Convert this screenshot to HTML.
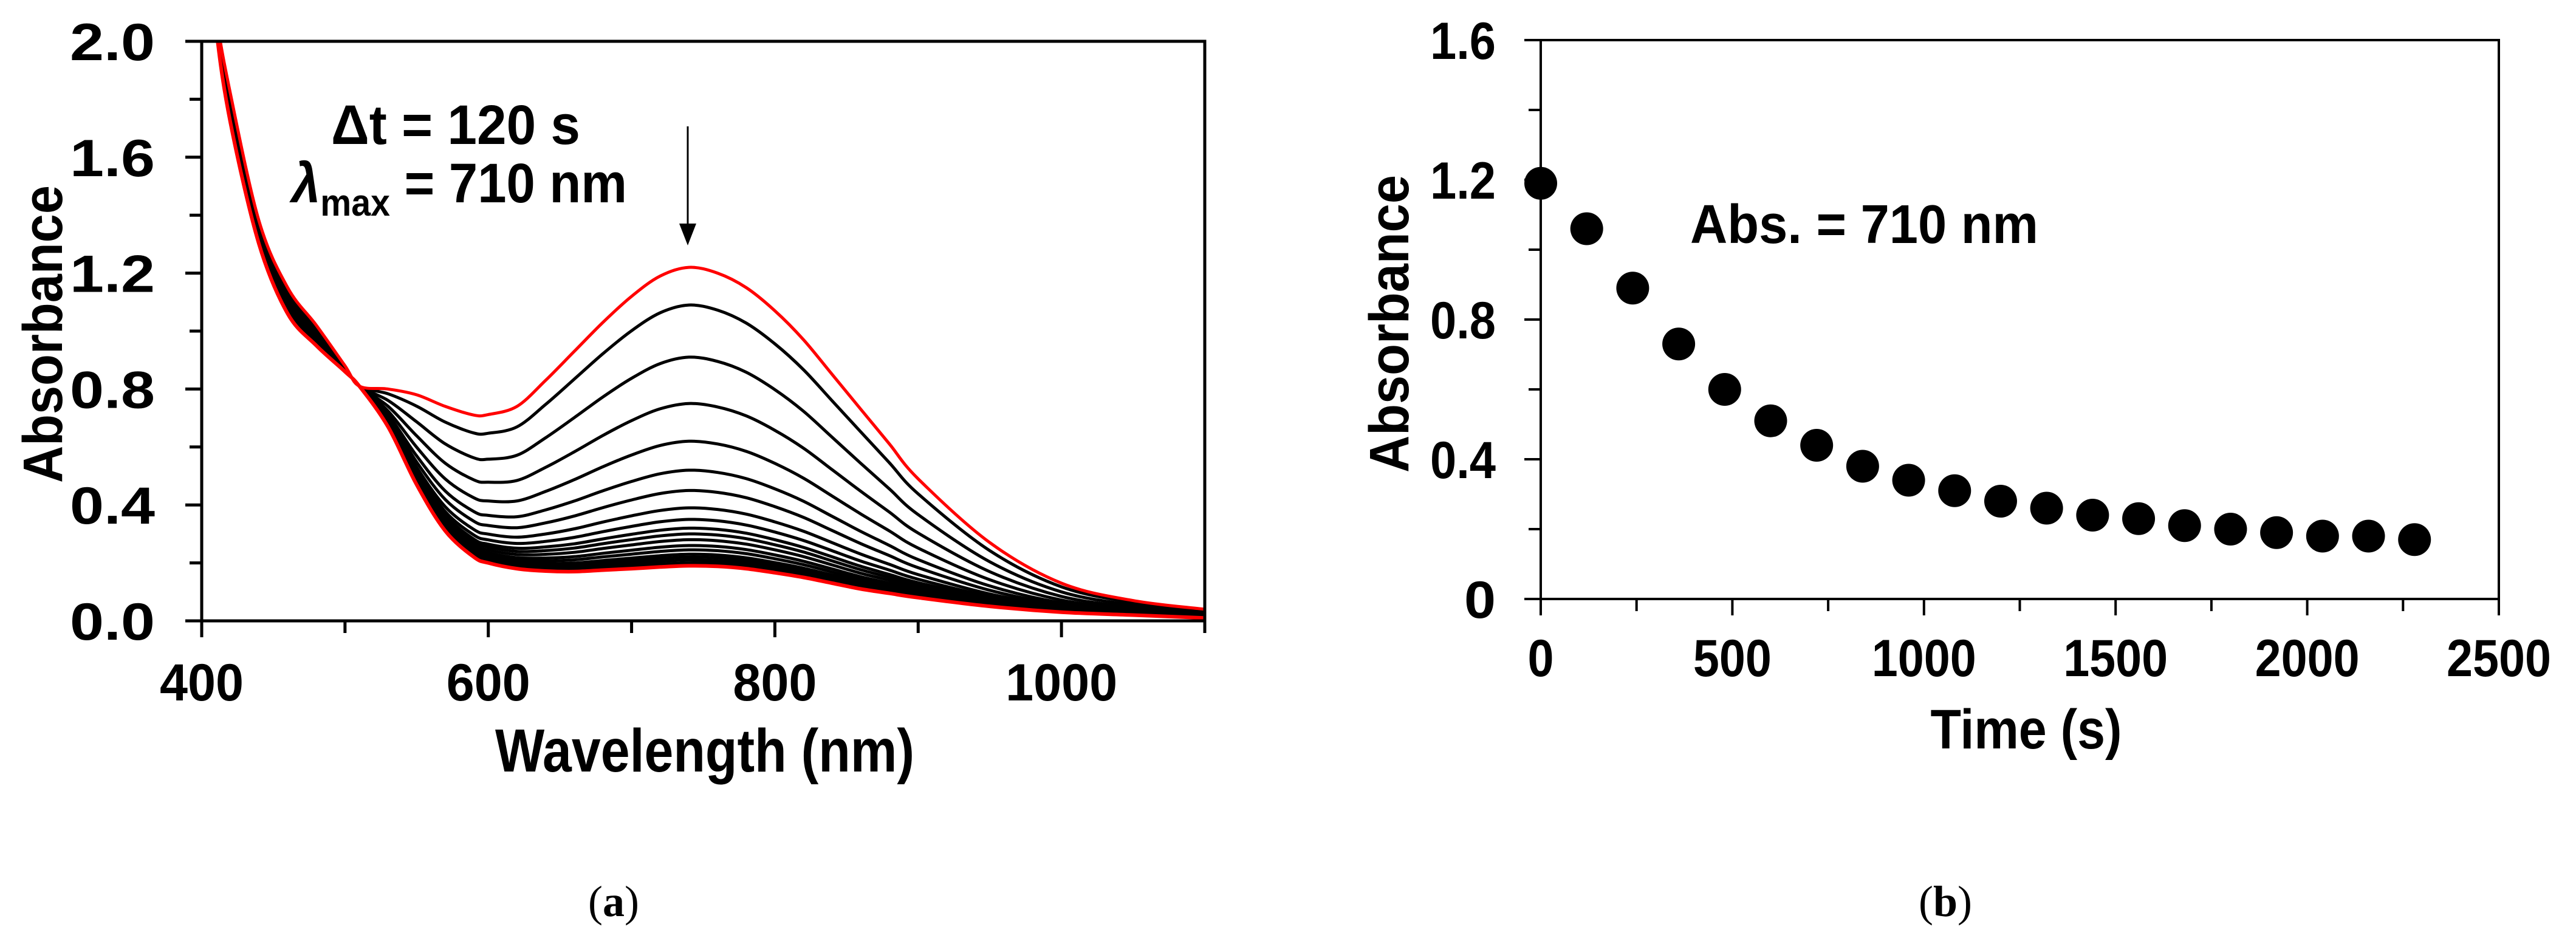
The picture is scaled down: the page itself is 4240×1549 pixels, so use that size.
<!DOCTYPE html>
<html><head><meta charset="utf-8"><style>
html,body{margin:0;padding:0;background:#fff;}
svg{display:block;}
.tk{font-family:"Liberation Sans",sans-serif;font-weight:bold;font-size:86px;}
.tt{font-family:"Liberation Sans",sans-serif;font-weight:bold;}
</style></head><body>
<svg id="fig" width="4240" height="1549" viewBox="0 0 4240 1549" xmlns="http://www.w3.org/2000/svg">
<rect width="4240" height="1549" fill="#fff"/>
<g id="pa"></g>
<g id="pb"></g>
<text x="1010" y="1508" font-family="Liberation Serif,serif" font-size="72" text-anchor="middle">(<tspan font-weight="bold">a</tspan>)</text>
<text x="3202" y="1508" font-family="Liberation Serif,serif" font-size="72" text-anchor="middle">(<tspan font-weight="bold">b</tspan>)</text>
</svg>
<script>
// ---- Panel (a) data ----
const wavelengths =    [405, 410, 420, 440, 460, 480, 500, 510, 530, 550, 570, 590, 600, 620, 640, 660, 680, 700, 720, 740, 760, 780, 800, 820, 840, 860, 880, 900, 950, 1000,1050,1100];
const finalSpectrum =  [2.4, 2.05,1.72,1.30,1.06,0.95,0.86,0.81,0.67,0.47,0.31,0.22,0.20,0.18,0.172,0.17,0.175,0.18,0.186,0.19,0.188,0.18,0.166,0.15,0.13,0.11,0.095,0.08,0.05,0.03,0.02,0.01];
const initialSpectrum= [2.4, 2.1, 1.82,1.38,1.15,1.02,0.88,0.81,0.80,0.78,0.74,0.71,0.712,0.74,0.83,0.93,1.03,1.12,1.19,1.22,1.20,1.15,1.07,0.97,0.85,0.73,0.61,0.49,0.27,0.13,0.07,0.04];
const peakValues = [1.22,1.09,0.91,0.75,0.62,0.52,0.45,0.39,0.35,0.32,0.30,0.28,0.26,0.245,0.23,0.22,0.21,0.20,0.195,0.19];
const aYTicks = ["0.0","0.4","0.8","1.2","1.6","2.0"];
const aXTicks = ["400","600","800","1000"];
// ---- Panel (b) data ----
const times = [0,120,240,360,480,600,720,840,960,1080,1200,1320,1440,1560,1680,1800,1920,2040,2160,2280];
const absorb = [1.19,1.06,0.89,0.73,0.60,0.51,0.44,0.38,0.34,0.31,0.28,0.26,0.24,0.23,0.21,0.20,0.19,0.18,0.18,0.17];
const bYTicks = ["0","0.4","0.8","1.2","1.6"];
const bXTicks = ["0","500","1000","1500","2000","2500"];

const NS="http://www.w3.org/2000/svg";
function mk(parent,tag,attrs,txt){const e=document.createElementNS(NS,tag);for(const k in attrs)e.setAttribute(k,attrs[k]);if(txt!==undefined)e.textContent=txt;parent.appendChild(e);return e;}

const ax={x0:332,x1:1983,y0:1022,y1:68,lmin:400,lmax:1100,amin:0,amax:2};
const xa=l=>ax.x0+(l-ax.lmin)/(ax.lmax-ax.lmin)*(ax.x1-ax.x0);
const ya=a=>ax.y0-(a-ax.amin)/(ax.amax-ax.amin)*(ax.y0-ax.y1);
const pa=document.getElementById('pa');
const clip=mk(pa,'clipPath',{id:'clipa'});mk(clip,'rect',{x:ax.x0,y:ax.y1,width:ax.x1-ax.x0,height:ax.y0-ax.y1});
const curves=mk(pa,'g',{'clip-path':'url(#clipa)'});


const pk0=peakValues[peakValues.length-1], pkN=peakValues[0];
function smoothPath(f){const pts=wavelengths.map((w,i)=>[xa(w),ya(finalSpectrum[i]+f*(initialSpectrum[i]-finalSpectrum[i]))]);let d='M'+pts[0][0].toFixed(1)+','+pts[0][1].toFixed(1);for(let i=0;i<pts.length-1;i++){const p0=pts[Math.max(0,i-1)],p1=pts[i],p2=pts[i+1],p3=pts[Math.min(pts.length-1,i+2)];const c1=[p1[0]+(p2[0]-p0[0])/6,p1[1]+(p2[1]-p0[1])/6],c2=[p2[0]-(p3[0]-p1[0])/6,p2[1]-(p3[1]-p1[1])/6];d+='C'+c1[0].toFixed(1)+','+c1[1].toFixed(1)+' '+c2[0].toFixed(1)+','+c2[1].toFixed(1)+' '+p2[0].toFixed(1)+','+p2[1].toFixed(1);}return d;}
for(let i=peakValues.length-2;i>=1;i--){const f=(peakValues[i]-pk0)/(pkN-pk0);const p=mk(curves,'path',{d:smoothPath(f),fill:'none',stroke:'#000','stroke-width':5});

}
const rLast=mk(curves,'path',{d:smoothPath(0),fill:'none',stroke:'#f00','stroke-width':6});


const rFirst=mk(curves,'path',{d:smoothPath(1),fill:'none',stroke:'#f00','stroke-width':5});


const fa=mk(pa,'rect',{x:ax.x0,y:ax.y1,width:ax.x1-ax.x0,height:ax.y0-ax.y1,fill:'none',stroke:'#000','stroke-width':5});


for(let i=0;i<=10;i++){const v=i*0.2;mk(pa,'line',{x1:ax.x0-(i%2?20:27),x2:ax.x0,y1:ya(v),y2:ya(v),stroke:'#000','stroke-width':5});}
aYTicks.forEach(t=>{const e=mk(pa,'text',{x:255,y:ya(+t)+31,'text-anchor':'end',class:'tk',textLength:140,lengthAdjust:'spacingAndGlyphs'},t);

});
for(let l=400;l<=1100;l+=100){mk(pa,'line',{x1:xa(l),x2:xa(l),y1:ax.y0,y2:ax.y0+(l%200===0?27:20),stroke:'#000','stroke-width':5});}
aXTicks.forEach(t=>{const e=mk(pa,'text',{x:xa(+t),y:1153,'text-anchor':'middle',class:'tk',textLength:t.length*46,lengthAdjust:'spacingAndGlyphs'},t);

});
let e;
e=mk(pa,'text',{x:1160,y:1270,'text-anchor':'middle',class:'tt','font-size':100,textLength:690,lengthAdjust:'spacingAndGlyphs'},'Wavelength (nm)');


e=mk(pa,'text',{x:0,y:0,'text-anchor':'middle',class:'tt','font-size':92,transform:'translate(102,550) rotate(-90)',textLength:490,lengthAdjust:'spacingAndGlyphs'},'Absorbance');


e=mk(pa,'text',{x:545,y:237,class:'tt','font-size':92,textLength:410,lengthAdjust:'spacingAndGlyphs'},'Δt = 120 s');


e=mk(pa,'text',{x:480,y:333,class:'tt','font-size':92},'');
e.innerHTML='<tspan font-style="italic">λ</tspan><tspan font-size="62" dy="22">max</tspan><tspan dy="-22"> = 710 nm</tspan>';
e.setAttribute('textLength','552');e.setAttribute('lengthAdjust','spacingAndGlyphs');


e=mk(pa,'line',{x1:1132,x2:1132,y1:208,y2:370,stroke:'#000','stroke-width':3});


e=mk(pa,'polygon',{points:'1118,368 1146,368 1132,404',fill:'#000'});



const bx={x0:2536,x1:4113,y0:986,y1:66,tmax:2500,amax:1.6};
const xb=t=>bx.x0+t/bx.tmax*(bx.x1-bx.x0);
const yb=a=>bx.y0-a/bx.amax*(bx.y0-bx.y1);
const pb=document.getElementById('pb');
e=mk(pb,'rect',{x:bx.x0,y:bx.y1,width:bx.x1-bx.x0,height:bx.y0-bx.y1,fill:'none',stroke:'#000','stroke-width':4});


for(let i=0;i<=8;i++){const v=i*0.2;mk(pb,'line',{x1:bx.x0-(i%2?20:27),x2:bx.x0,y1:yb(v),y2:yb(v),stroke:'#000','stroke-width':4});}
for(let i=0;i<=10;i++){const t=i*250;mk(pb,'line',{x1:xb(t),x2:xb(t),y1:bx.y0,y2:bx.y0+(i%2?20:27),stroke:'#000','stroke-width':4});}
bYTicks.forEach(t=>{const e=mk(pb,'text',{x:2462,y:yb(+t)+31,'text-anchor':'end',class:'tk',textLength:t.length===1?52:108,lengthAdjust:'spacingAndGlyphs'},t);

});
bXTicks.forEach(t=>{const e=mk(pb,'text',{x:xb(+t),y:1113,'text-anchor':'middle',class:'tk',textLength:t.length*43,lengthAdjust:'spacingAndGlyphs'},t);

});
times.forEach((t,i)=>{const c=mk(pb,'circle',{cx:xb(t),cy:yb(absorb[i]),r:27,fill:'#000'});

});
e=mk(pb,'text',{x:3335,y:1232,'text-anchor':'middle',class:'tt','font-size':92,textLength:315,lengthAdjust:'spacingAndGlyphs'},'Time (s)');


e=mk(pb,'text',{x:0,y:0,'text-anchor':'middle',class:'tt','font-size':92,transform:'translate(2318,533) rotate(-90)',textLength:490,lengthAdjust:'spacingAndGlyphs'},'Absorbance');


e=mk(pb,'text',{x:2782,y:400,class:'tt','font-size':90,textLength:573,lengthAdjust:'spacingAndGlyphs'},'Abs. = 710 nm');


</script>
</body></html>
